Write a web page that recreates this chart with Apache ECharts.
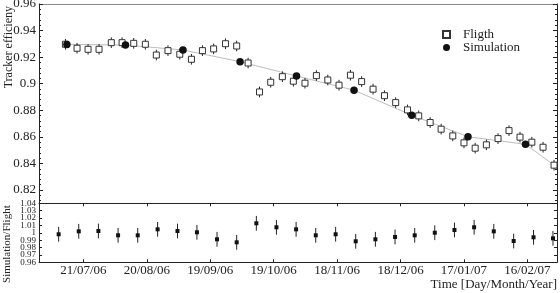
<!DOCTYPE html>
<html><head><meta charset="utf-8">
<script src="https://cdn.jsdelivr.net/npm/echarts@6/dist/echarts.min.js"></script>
<style>html,body{margin:0;padding:0;background:#fff}#c{width:560px;height:293px}</style>
</head><body><div id="c"></div>
<script>
// x values are days counted from 2006-06-21
const xTickDays = [30, 60, 90, 120, 150, 180, 210, 240];
const xTickLabels = ['21/07/06', '20/08/06', '19/09/06', '19/10/06', '18/11/06', '18/12/06', '17/01/07', '16/02/07'];
const effTicks = [0.82, 0.84, 0.86, 0.88, 0.90, 0.92, 0.94, 0.96];
const effTickLabels = ['0.82', '0.84', '0.86', '0.88', '0.9', '0.92', '0.94', '0.96'];
const ratioTicks = [0.96, 0.97, 0.98, 0.99, 1.00, 1.01, 1.02, 1.03, 1.04];
const ratioTickLabels = ['0.96', '0.97', '0.98', '0.99', '1', '1.01', '1.02', '1.03', '1.04'];

const flightDay = [21.5, 27.0, 32.2, 37.4, 43.2, 48.3, 53.8, 59.3, 64.5, 70.0, 75.6, 81.1, 86.3, 91.6, 97.2,
  102.5, 107.9, 113.3, 118.6, 124.1, 129.3, 134.8, 140.2, 145.6, 150.9, 156.3, 161.6, 167.0, 172.4, 177.7,
  183.3, 188.6, 194.0, 199.2, 204.7, 210.0, 215.3, 220.6, 226.1, 231.3, 236.5, 242.1, 247.4, 252.6];
const flightEff = [0.9297, 0.9267, 0.9259, 0.9259, 0.9309, 0.9309, 0.9304, 0.9297, 0.9216, 0.9249, 0.9222, 0.9184, 0.9249, 0.9262, 0.9301,
  0.9284, 0.9156, 0.8938, 0.9011, 0.9053, 0.9019, 0.9004, 0.9061, 0.9028, 0.8989, 0.9064, 0.9016, 0.8959, 0.8910, 0.8858,
  0.8803, 0.8758, 0.8708, 0.8658, 0.8607, 0.8555, 0.8515, 0.8540, 0.8587, 0.8647, 0.8598, 0.8560, 0.8522, 0.8387];
const flightErr = [0.004, 0.004, 0.004, 0.004, 0.004, 0.004, 0.004, 0.004, 0.004, 0.004, 0.004, 0.004, 0.004, 0.004, 0.004,
  0.004, 0.004, 0.004, 0.004, 0.004, 0.004, 0.004, 0.004, 0.004, 0.004, 0.004, 0.004, 0.004, 0.004, 0.004,
  0.004, 0.004, 0.004, 0.004, 0.004, 0.004, 0.004, 0.004, 0.004, 0.004, 0.004, 0.004, 0.004, 0.004];

const simDay = [22.2, 49.9, 77.1, 104.1, 130.8, 158.0, 185.3, 211.9, 239.1];
const simEff = [0.9296, 0.9291, 0.9254, 0.9166, 0.9058, 0.8951, 0.8763, 0.8601, 0.8544];

const ratioDay = [18.3, 27.8, 37.1, 46.4, 55.7, 65.1, 74.5, 83.7, 93.2, 102.5, 111.8, 121.3, 130.6,
  139.9, 149.3, 158.8, 168.1, 177.4, 186.7, 196.2, 205.5, 214.8, 224.1, 233.5, 242.9, 252.1];
const ratioVal = [0.998, 1.002, 1.0024, 0.9966, 0.9966, 1.0047, 1.0024, 1.0007, 0.9912, 0.9871, 1.0129, 1.0075, 1.0047,
  0.9966, 0.998, 0.9885, 0.9912, 0.9943, 0.9966, 1.0001, 1.0038, 1.0075, 1.002, 0.9889, 0.9939, 0.9925];
const ratioErr = [0.010, 0.010, 0.010, 0.010, 0.010, 0.010, 0.010, 0.010, 0.010, 0.010, 0.010, 0.010, 0.010,
  0.010, 0.010, 0.010, 0.010, 0.010, 0.010, 0.010, 0.010, 0.010, 0.010, 0.010, 0.010, 0.010];

const FONT = '"Liberation Serif", "Times New Roman", Times, serif';
const INK = '#222';
const X_MIN = 9, X_MAX = 254;

// minor tick positions (styling only)
const effMinor = [];
for (let k = 0; k <= 37; k++) { const v = +(0.812 + k * 0.004).toFixed(3); if (v <= 0.96) effMinor.push(v); }
// split ratio labels over two overlapping axes so none get hidden
const ratioEven = ratioTicks.filter((t, i) => i % 2 === 0);
const ratioOdd = ratioTicks.filter((t, i) => i % 2 === 1);
const ratioFmt = v => ratioTickLabels[ratioTicks.findIndex(t => Math.abs(t - v) < 1e-6)];

function errBars(xs, ys, es, xi, yi, z) {
  return {
    type: 'custom', xAxisIndex: xi, yAxisIndex: yi, z: z, silent: true,
    data: xs.map((x, i) => [x, ys[i] - es[i], ys[i] + es[i]]),
    encode: { x: 0, y: [1, 2] },
    renderItem: (params, api) => {
      const a = api.coord([api.value(0), api.value(1)]);
      const b = api.coord([api.value(0), api.value(2)]);
      return { type: 'line', shape: { x1: a[0], y1: a[1], x2: b[0], y2: b[1] }, style: { stroke: INK, lineWidth: 1 } };
    }
  };
}

const lineData = simDay.map((d, i) => [d, simEff[i]]);
lineData.push([flightDay[flightDay.length - 1], flightEff[flightEff.length - 1]]);

const chart = echarts.init(document.getElementById('c'), null, { renderer: 'canvas' });
const baseAxis = { axisLine: { show: true, lineStyle: { color: INK, width: 1 } }, splitLine: { show: false } };

chart.setOption({
  animation: false,
  backgroundColor: '#fff',
  textStyle: { fontFamily: FONT, color: INK },
  grid: [
    { left: 39, right: 3, top: 4, height: 199.3, outerBoundsMode: 'none' },
    { left: 39, right: 3, top: 203.3, height: 59, outerBoundsMode: 'none' }
  ],
  legend: {
    left: 442, top: 28, orient: 'vertical', padding: 0, itemGap: 0,
    itemWidth: 7, itemHeight: 7,
    textStyle: { fontFamily: FONT, fontSize: 13, color: INK, lineHeight: 13, padding: [0, 0, 0, 8] },
    data: [{ name: 'Fligth', icon: 'rect' }, { name: 'Simulation', icon: 'circle' }]
  },
  xAxis: [
    Object.assign({}, baseAxis, { type: 'value', gridIndex: 0, position: 'bottom', min: X_MIN, max: X_MAX,
      axisTick: { show: true, inside: false, length: 3, customValues: xTickDays, lineStyle: { color: INK } },
      axisLabel: { show: false } }),
    Object.assign({}, baseAxis, { type: 'value', gridIndex: 0, position: 'top', min: X_MIN, max: X_MAX,
      axisLine: { show: true, lineStyle: { color: '#888', width: 1 } },
      axisTick: { show: false }, axisLabel: { show: false } }),
    Object.assign({}, baseAxis, { type: 'value', gridIndex: 1, position: 'bottom', min: X_MIN, max: X_MAX,
      axisTick: { show: true, inside: true, length: 3, customValues: xTickDays, lineStyle: { color: INK } },
      axisLabel: { show: true, customValues: xTickDays, margin: 2, fontFamily: FONT, fontSize: 13, color: INK,
        showMinLabel: true, showMaxLabel: true,
        formatter: v => xTickLabels[xTickDays.indexOf(v)] },
      name: 'Time [Day/Month/Year]', nameLocation: 'end', nameGap: 0, nameMoveOverlap: false,
      nameTextStyle: { fontFamily: FONT, fontSize: 13, color: INK, align: 'right', verticalAlign: 'top', padding: [16, 0, 0, 0] } })
  ],
  yAxis: [
    Object.assign({}, baseAxis, { type: 'value', gridIndex: 0, position: 'left', min: 0.81, max: 0.96,
      axisTick: { show: true, inside: true, length: 4, customValues: effTicks, lineStyle: { color: INK } },
      axisLabel: { show: true, customValues: effTicks, margin: 3, fontFamily: FONT, fontSize: 13, color: INK,
        showMinLabel: true, showMaxLabel: true,
        formatter: v => effTickLabels[effTicks.findIndex(t => Math.abs(t - v) < 1e-6)] },
      name: 'Tracker efficieny', nameLocation: 'end', nameGap: -2, nameRotate: 90, nameMoveOverlap: false,
      nameTextStyle: { fontFamily: FONT, fontSize: 12, color: INK, align: 'right', verticalAlign: 'bottom', padding: [0, 0, 24, 0] } }),
    Object.assign({}, baseAxis, { type: 'value', gridIndex: 0, position: 'left', min: 0.81, max: 0.96,
      axisLine: { show: false },
      axisTick: { show: true, inside: true, length: 2, customValues: effMinor, lineStyle: { color: INK } },
      axisLabel: { show: false } }),
    Object.assign({}, baseAxis, { type: 'value', gridIndex: 0, position: 'right', min: 0.81, max: 0.96,
      axisTick: { show: true, inside: true, length: 4, customValues: effTicks, lineStyle: { color: INK } },
      axisLabel: { show: false } }),
    Object.assign({}, baseAxis, { type: 'value', gridIndex: 0, position: 'right', min: 0.81, max: 0.96,
      axisLine: { show: false },
      axisTick: { show: true, inside: true, length: 2, customValues: effMinor, lineStyle: { color: INK } },
      axisLabel: { show: false } }),
    Object.assign({}, baseAxis, { type: 'value', gridIndex: 1, position: 'left', min: 0.96, max: 1.04,
      axisTick: { show: true, inside: true, length: 3, customValues: ratioTicks, lineStyle: { color: INK } },
      axisLabel: { show: true, customValues: ratioEven, margin: 3, fontFamily: FONT, fontSize: 9, color: INK,
        showMinLabel: true, showMaxLabel: true, formatter: ratioFmt },
      name: 'Simulation/Flight', nameLocation: 'end', nameGap: -2, nameRotate: 90, nameMoveOverlap: false,
      nameTextStyle: { fontFamily: FONT, fontSize: 11, color: INK, align: 'right', verticalAlign: 'bottom', padding: [0, 0, 26, 0] } }),
    Object.assign({}, baseAxis, { type: 'value', gridIndex: 1, position: 'left', min: 0.96, max: 1.04,
      axisLine: { show: false }, axisTick: { show: false },
      axisLabel: { show: true, customValues: ratioOdd, margin: 3, fontFamily: FONT, fontSize: 9, color: INK,
        showMinLabel: true, showMaxLabel: true, formatter: ratioFmt } }),
    Object.assign({}, baseAxis, { type: 'value', gridIndex: 1, position: 'right', min: 0.96, max: 1.04,
      axisTick: { show: true, inside: true, length: 3, customValues: ratioTicks, lineStyle: { color: INK } },
      axisLabel: { show: false } })
  ],
  series: [
    { type: 'line', name: 'fit', xAxisIndex: 0, yAxisIndex: 0, z: 1, data: lineData, showSymbol: false, symbol: 'none',
      lineStyle: { color: '#bdbdbd', width: 1 }, silent: true },
    errBars(flightDay, flightEff, flightErr, 0, 0, 2),
    { type: 'scatter', name: 'Fligth', xAxisIndex: 0, yAxisIndex: 0, z: 3, symbol: 'rect', symbolSize: 6,
      itemStyle: { color: '#fff', borderColor: '#333', borderWidth: 1, opacity: 1 },
      data: flightDay.map((d, i) => [d, flightEff[i]]) },
    { type: 'scatter', name: 'Simulation', xAxisIndex: 0, yAxisIndex: 0, z: 4, symbol: 'circle', symbolSize: 7.5,
      itemStyle: { color: '#111', opacity: 1 },
      data: simDay.map((d, i) => [d, simEff[i]]) },
    errBars(ratioDay, ratioVal, ratioErr, 2, 4, 2),
    { type: 'scatter', name: 'ratio', xAxisIndex: 2, yAxisIndex: 4, z: 3, symbol: 'rect', symbolSize: 4,
      itemStyle: { color: '#111', opacity: 1 },
      data: ratioDay.map((d, i) => [d, ratioVal[i]]) }
  ]
});
</script>
</body></html>
